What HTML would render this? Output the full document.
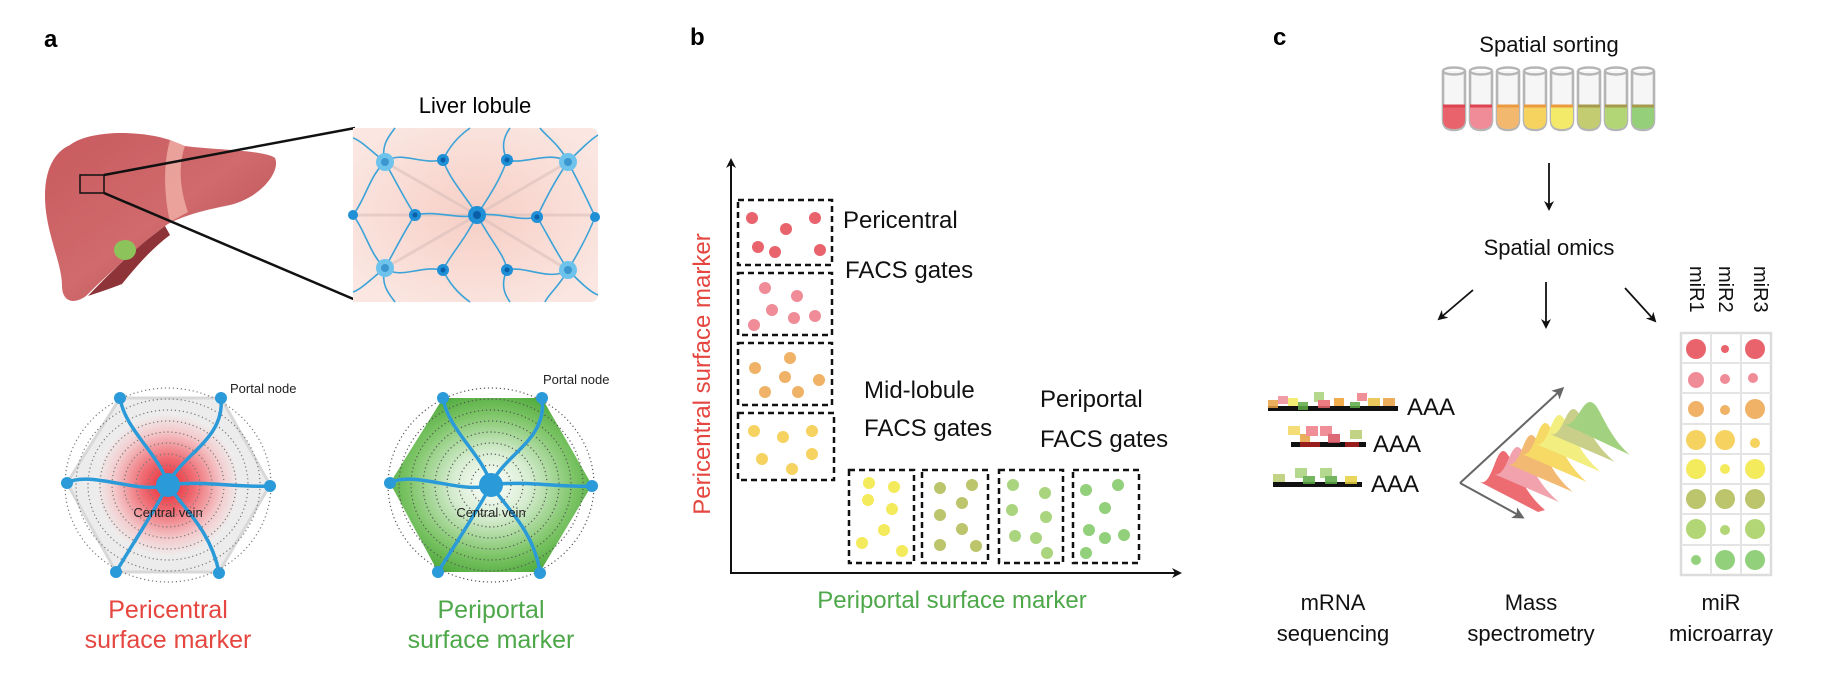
<!DOCTYPE html>
<html><head><meta charset="utf-8"><style>
html,body{margin:0;padding:0;background:#fff;}
svg{display:block;font-family:"Liberation Sans",Arial,sans-serif;}
</style></head><body>
<svg width="1824" height="684" viewBox="0 0 1824 684" xmlns="http://www.w3.org/2000/svg">
<defs>
<linearGradient id="liv" x1="0" y1="0" x2="1" y2="1"><stop offset="0" stop-color="#c85a5e"/><stop offset="0.5" stop-color="#d06a6c"/><stop offset="1" stop-color="#b44a50"/></linearGradient>
<radialGradient id="red" cx="0.5" cy="0.5" r="0.5"><stop offset="0" stop-color="#e8202a"/><stop offset="0.35" stop-color="#ef6068"/><stop offset="0.75" stop-color="#f4c8ca"/><stop offset="1" stop-color="#eeeeee"/></radialGradient>
<radialGradient id="grn" cx="0.5" cy="0.5" r="0.55"><stop offset="0" stop-color="#ffffff"/><stop offset="0.35" stop-color="#d6ecd0"/><stop offset="0.75" stop-color="#7cc466"/><stop offset="1" stop-color="#4faa3c"/></radialGradient>
<radialGradient id="lob" cx="0.5" cy="0.5" r="0.6"><stop offset="0" stop-color="#f6cfc6"/><stop offset="1" stop-color="#fbe6e1"/></radialGradient>
<linearGradient id="fade" x1="0" y1="0" x2="1" y2="1"><stop offset="0.4" stop-color="#fff" stop-opacity="1"/><stop offset="1" stop-color="#fff" stop-opacity="0"/></linearGradient>
<marker id="ah" markerWidth="10" markerHeight="10" refX="8" refY="5" orient="auto" markerUnits="userSpaceOnUse"><path d="M0,0 L10,5 L0,10 L3,5 Z" fill="#111"/></marker>
<marker id="ahg" markerWidth="12" markerHeight="12" refX="9" refY="6" orient="auto" markerUnits="userSpaceOnUse"><path d="M0,0 L12,6 L0,12 L3,6 Z" fill="#666"/></marker>
</defs>

<!-- Panel a -->
<text x="44" y="47" font-size="24" font-weight="bold">a</text>
<path d="M70,145 C90,130 140,130 170,140 L185,146 C215,150 265,150 275,158 C281,172 260,198 230,205 C205,210 185,215 168,224 C150,236 110,272 86,296 C72,306 62,300 62,286 C62,262 45,232 45,196 C45,170 54,152 70,145 Z" fill="url(#liv)"/>
<path d="M170,140 L185,146 C178,165 180,190 188,212 L170,222 C164,195 163,165 170,140 Z" fill="#f0b0a8" opacity="0.8"/>
<path d="M165,226 C135,248 108,275 88,296 C100,292 112,288 122,284 C135,268 150,250 170,235 Z" fill="#8e3338"/>
<ellipse cx="125" cy="250" rx="11" ry="10" fill="#8cc35a"/>
<rect x="80" y="175" width="24" height="18" fill="none" stroke="#111" stroke-width="1.5"/>
<line x1="104" y1="175" x2="355" y2="128" stroke="#111" stroke-width="2.5"/>
<line x1="104" y1="193" x2="358" y2="301" stroke="#111" stroke-width="2.5"/>
<text x="475" y="113" font-size="22" text-anchor="middle">Liver lobule</text>
<g>
<path d="M353,128 H590 Q598,128 598,136 V294 Q598,302 590,302 H353 Z" fill="url(#lob)"/>
<g stroke="#dcc0bc" stroke-width="3" opacity="0.6"><line x1="385" y1="162" x2="477" y2="215"/><line x1="568" y1="162" x2="477" y2="215"/><line x1="385" y1="268" x2="477" y2="215"/><line x1="568" y1="270" x2="477" y2="215"/><line x1="353" y1="215" x2="598" y2="215"/></g>
<g stroke="#3ba3d8" stroke-width="1.6" fill="none">
<path d="M477,215 C465,195 450,180 443,160"/><path d="M477,215 C490,195 500,180 507,160"/><path d="M477,215 C460,220 435,210 415,215"/><path d="M477,215 C500,212 520,222 537,217"/><path d="M477,215 C465,240 450,255 443,270"/><path d="M477,215 C490,240 505,255 507,270"/>
<path d="M385,162 C400,150 420,165 443,160"/><path d="M385,162 C395,180 405,200 415,215"/><path d="M385,162 C370,175 365,200 353,215"/><path d="M385,162 C380,145 390,135 395,128"/><path d="M385,162 C370,150 360,140 353,138"/>
<path d="M385,268 C400,280 420,265 443,270"/><path d="M385,268 C395,250 405,230 415,215"/><path d="M385,268 C370,255 365,230 353,215"/><path d="M385,268 C380,285 390,295 395,302"/><path d="M385,268 C370,280 360,290 353,292"/>
<path d="M568,162 C550,150 525,165 507,160"/><path d="M568,162 C555,180 545,200 537,217"/><path d="M568,162 C580,185 590,205 595,217"/><path d="M568,162 C560,145 545,135 540,128"/><path d="M568,162 C580,150 590,140 598,135"/>
<path d="M568,270 C550,282 525,265 507,270"/><path d="M568,270 C555,250 545,230 537,217"/><path d="M568,270 C580,250 590,230 595,217"/><path d="M568,270 C560,285 548,295 545,302"/><path d="M568,270 C580,282 590,292 598,295"/>
<path d="M443,160 C450,145 460,135 470,128"/><path d="M507,160 C500,145 505,135 510,128"/><path d="M443,270 C450,285 460,295 470,302"/><path d="M507,270 C500,285 505,295 510,302"/>
</g>
<g fill="#6ec3ec"><circle cx="385" cy="162" r="9"/><circle cx="385" cy="268" r="9"/><circle cx="568" cy="162" r="9"/><circle cx="568" cy="270" r="9"/></g>
<g fill="#3c97cf"><circle cx="385" cy="162" r="4"/><circle cx="385" cy="268" r="4"/><circle cx="568" cy="162" r="4"/><circle cx="568" cy="270" r="4"/></g>
<g fill="#1f8fd6"><circle cx="443" cy="160" r="6"/><circle cx="507" cy="160" r="6"/><circle cx="415" cy="215" r="6"/><circle cx="537" cy="217" r="6"/><circle cx="443" cy="270" r="6"/><circle cx="507" cy="270" r="6"/><circle cx="353" cy="215" r="5"/><circle cx="595" cy="217" r="5"/><circle cx="477" cy="215" r="9"/></g>
<g fill="#0b5fa8"><circle cx="443" cy="160" r="2.5"/><circle cx="507" cy="160" r="2.5"/><circle cx="415" cy="215" r="2.5"/><circle cx="537" cy="217" r="2.5"/><circle cx="443" cy="270" r="2.5"/><circle cx="507" cy="270" r="2.5"/><circle cx="477" cy="215" r="4"/></g>
</g>

<!-- left hex -->
<g>
<polygon points="120,398 221,398 270,485 219,572 116,572 67,483" fill="#ececec" stroke="#d8d8d8" stroke-width="3"/>
<circle cx="168" cy="485" r="72" fill="url(#red)" opacity="0.95"/>
<g fill="none" stroke="#777" stroke-width="1.2" stroke-dasharray="1.2 2.8">
<ellipse cx="168" cy="485" rx="20" ry="20"/><ellipse cx="168" cy="485" rx="32" ry="31"/><ellipse cx="168" cy="485" rx="44" ry="42"/><ellipse cx="168" cy="485" rx="56" ry="53"/><ellipse cx="168" cy="485" rx="68" ry="64"/><ellipse cx="168" cy="485" rx="80" ry="75"/><ellipse cx="168" cy="485" rx="92" ry="86"/><ellipse cx="168" cy="485" rx="103" ry="97"/>
</g>
<g stroke="#2b9ad8" stroke-width="3.5" fill="none">
<path d="M168,485 C160,455 125,430 120,398"/><path d="M168,485 C180,455 225,440 221,398"/><path d="M168,485 C140,495 90,470 67,483"/><path d="M168,485 C200,480 240,488 270,486"/><path d="M168,485 C155,510 135,540 116,572"/><path d="M168,485 C185,510 210,530 219,572"/>
</g>
<g fill="#2b9ad8"><circle cx="168" cy="485" r="12"/><circle cx="120" cy="398" r="6"/><circle cx="221" cy="398" r="6"/><circle cx="67" cy="483" r="6"/><circle cx="270" cy="486" r="6"/><circle cx="116" cy="572" r="6"/><circle cx="219" cy="573" r="6"/></g>
<text x="230" y="393" font-size="13" fill="#222">Portal node</text>
<text x="168" y="517" font-size="13" text-anchor="middle" fill="#222">Central vein</text>
<text x="168" y="618" font-size="25" text-anchor="middle" fill="#e5463f">Pericentral</text>
<text x="168" y="648" font-size="25" text-anchor="middle" fill="#e5463f">surface marker</text>
</g>

<!-- right hex -->
<g>
<polygon points="443,398 542,398 592,485 540,572 438,572 390,483" fill="url(#grn)"/>
<g fill="none" stroke="#555" stroke-width="1.2" stroke-dasharray="1.2 2.8">
<ellipse cx="491" cy="485" rx="20" ry="20"/><ellipse cx="491" cy="485" rx="32" ry="31"/><ellipse cx="491" cy="485" rx="44" ry="42"/><ellipse cx="491" cy="485" rx="56" ry="53"/><ellipse cx="491" cy="485" rx="68" ry="64"/><ellipse cx="491" cy="485" rx="80" ry="75"/><ellipse cx="491" cy="485" rx="92" ry="86"/><ellipse cx="491" cy="485" rx="103" ry="97"/>
</g>
<g stroke="#2b9ad8" stroke-width="3.5" fill="none">
<path d="M491,485 C483,455 448,430 443,398"/><path d="M491,485 C503,455 548,440 542,398"/><path d="M491,485 C463,495 413,470 390,483"/><path d="M491,485 C523,480 563,488 592,486"/><path d="M491,485 C478,510 458,540 438,572"/><path d="M491,485 C508,510 533,530 540,572"/>
</g>
<g fill="#2b9ad8"><circle cx="491" cy="485" r="12"/><circle cx="443" cy="398" r="6"/><circle cx="542" cy="398" r="6"/><circle cx="390" cy="483" r="6"/><circle cx="592" cy="486" r="6"/><circle cx="438" cy="572" r="6"/><circle cx="540" cy="573" r="6"/></g>
<text x="543" y="384" font-size="13" fill="#222">Portal node</text>
<text x="491" y="517" font-size="13" text-anchor="middle" fill="#222">Central vein</text>
<text x="491" y="618" font-size="25" text-anchor="middle" fill="#4ea84a">Periportal</text>
<text x="491" y="648" font-size="25" text-anchor="middle" fill="#4ea84a">surface marker</text>
</g>

<!-- Panel b -->
<text x="690" y="45" font-size="24" font-weight="bold">b</text>
<line x1="731" y1="573" x2="731" y2="160" stroke="#111" stroke-width="2" marker-end="url(#ah)"/>
<line x1="730" y1="573" x2="1180" y2="573" stroke="#111" stroke-width="2" marker-end="url(#ah)"/>
<g fill="none" stroke="#111" stroke-width="2.5" stroke-dasharray="6 4">
<rect x="738" y="200" width="94" height="65"/><rect x="738" y="273" width="94" height="62"/><rect x="738" y="343" width="94" height="62"/><rect x="738" y="413" width="96" height="67"/>
<rect x="849" y="470" width="65" height="93"/><rect x="922" y="470" width="66" height="93"/><rect x="999" y="470" width="64" height="93"/><rect x="1073" y="470" width="66" height="93"/>
</g>
<g fill="#e8636c"><circle cx="752" cy="218" r="6"/><circle cx="786" cy="229" r="6"/><circle cx="815" cy="218" r="6"/><circle cx="758" cy="247" r="6"/><circle cx="775" cy="252" r="6"/><circle cx="820" cy="250" r="6"/></g>
<g fill="#ef8c98"><circle cx="765" cy="288" r="6"/><circle cx="797" cy="296" r="6"/><circle cx="772" cy="310" r="6"/><circle cx="794" cy="318" r="6"/><circle cx="815" cy="316" r="6"/><circle cx="754" cy="325" r="6"/></g>
<g fill="#efb266"><circle cx="755" cy="368" r="6"/><circle cx="790" cy="358" r="6"/><circle cx="785" cy="377" r="6"/><circle cx="819" cy="380" r="6"/><circle cx="765" cy="392" r="6"/><circle cx="798" cy="392" r="6"/></g>
<g fill="#f6d260"><circle cx="754" cy="431" r="6"/><circle cx="783" cy="437" r="6"/><circle cx="812" cy="431" r="6"/><circle cx="762" cy="459" r="6"/><circle cx="812" cy="454" r="6"/><circle cx="792" cy="469" r="6"/></g>
<g fill="#f3ea5c"><circle cx="869" cy="483" r="6"/><circle cx="894" cy="487" r="6"/><circle cx="868" cy="500" r="6"/><circle cx="892" cy="509" r="6"/><circle cx="884" cy="530" r="6"/><circle cx="862" cy="543" r="6"/><circle cx="902" cy="551" r="6"/></g>
<g fill="#bcc46c"><circle cx="940" cy="488" r="6"/><circle cx="972" cy="485" r="6"/><circle cx="962" cy="503" r="6"/><circle cx="940" cy="515" r="6"/><circle cx="962" cy="529" r="6"/><circle cx="940" cy="545" r="6"/><circle cx="976" cy="546" r="6"/></g>
<g fill="#abd47e"><circle cx="1013" cy="485" r="6"/><circle cx="1045" cy="493" r="6"/><circle cx="1012" cy="510" r="6"/><circle cx="1046" cy="517" r="6"/><circle cx="1036" cy="538" r="6"/><circle cx="1015" cy="536" r="6"/><circle cx="1047" cy="553" r="6"/></g>
<g fill="#92d07c"><circle cx="1086" cy="490" r="6"/><circle cx="1118" cy="485" r="6"/><circle cx="1105" cy="508" r="6"/><circle cx="1089" cy="530" r="6"/><circle cx="1105" cy="538" r="6"/><circle cx="1124" cy="535" r="6"/><circle cx="1086" cy="553" r="6"/></g>
<g font-size="24" fill="#111">
<text x="843" y="228">Pericentral</text><text x="845" y="278">FACS gates</text>
<text x="864" y="398">Mid-lobule</text><text x="864" y="436">FACS gates</text>
<text x="1040" y="407">Periportal</text><text x="1040" y="447">FACS gates</text>
</g>
<text x="952" y="608" font-size="24" text-anchor="middle" fill="#4ea84a">Periportal surface marker</text>
<text transform="translate(710,374) rotate(-90)" font-size="24" text-anchor="middle" fill="#e5463f">Pericentral surface marker</text>

<!-- Panel c -->
<text x="1273" y="45" font-size="24" font-weight="bold">c</text>
<text x="1549" y="52" font-size="22" text-anchor="middle" fill="#111">Spatial sorting</text>
<g stroke="#b5b5b5" stroke-width="2.6">
<path d="M1443,71 V120 Q1443,130 1454,130 Q1465,130 1465,120 V71" fill="#f6f6f6"/>
<path d="M1443,106 V120 Q1443,129 1454,129 Q1465,129 1465,120 V106 Z" fill="#e9636c" stroke="none"/>
<path d="M1470,71 V120 Q1470,130 1481,130 Q1492,130 1492,120 V71" fill="#f6f6f6"/>
<path d="M1470,106 V120 Q1470,129 1481,129 Q1492,129 1492,120 V106 Z" fill="#ef8c98" stroke="none"/>
<path d="M1497,71 V120 Q1497,130 1508,130 Q1519,130 1519,120 V71" fill="#f6f6f6"/>
<path d="M1497,106 V120 Q1497,129 1508,129 Q1519,129 1519,120 V106 Z" fill="#f2b96e" stroke="none"/>
<path d="M1524,71 V120 Q1524,130 1535,130 Q1546,130 1546,120 V71" fill="#f6f6f6"/>
<path d="M1524,106 V120 Q1524,129 1535,129 Q1546,129 1546,120 V106 Z" fill="#f6d35e" stroke="none"/>
<path d="M1551,71 V120 Q1551,130 1562,130 Q1573,130 1573,120 V71" fill="#f6f6f6"/>
<path d="M1551,106 V120 Q1551,129 1562,129 Q1573,129 1573,120 V106 Z" fill="#f4ea6a" stroke="none"/>
<path d="M1578,71 V120 Q1578,130 1589,130 Q1600,130 1600,120 V71" fill="#f6f6f6"/>
<path d="M1578,106 V120 Q1578,129 1589,129 Q1600,129 1600,120 V106 Z" fill="#c4cc72" stroke="none"/>
<path d="M1605,71 V120 Q1605,130 1616,130 Q1627,130 1627,120 V71" fill="#f6f6f6"/>
<path d="M1605,106 V120 Q1605,129 1616,129 Q1627,129 1627,120 V106 Z" fill="#b2d676" stroke="none"/>
<path d="M1632,71 V120 Q1632,130 1643,130 Q1654,130 1654,120 V71" fill="#f6f6f6"/>
<path d="M1632,106 V120 Q1632,129 1643,129 Q1654,129 1654,120 V106 Z" fill="#96cf7a" stroke="none"/>
</g>
<g fill="none" stroke="#b5b5b5" stroke-width="2.4"><ellipse cx="1454" cy="71" rx="11" ry="3.5"/><ellipse cx="1481" cy="71" rx="11" ry="3.5"/><ellipse cx="1508" cy="71" rx="11" ry="3.5"/><ellipse cx="1535" cy="71" rx="11" ry="3.5"/><ellipse cx="1562" cy="71" rx="11" ry="3.5"/><ellipse cx="1589" cy="71" rx="11" ry="3.5"/><ellipse cx="1616" cy="71" rx="11" ry="3.5"/><ellipse cx="1643" cy="71" rx="11" ry="3.5"/></g>
<g fill="none" stroke-width="3"><path d="M1443,106 H1465 M1470,106 H1492" stroke="#dd4450"/><path d="M1497,106 H1519 M1524,106 H1546 M1551,106 H1573" stroke="#eb9a40"/><path d="M1578,106 H1600 M1605,106 H1627 M1632,106 H1654" stroke="#a79a4c"/></g>
<line x1="1549" y1="163" x2="1549" y2="209" stroke="#111" stroke-width="1.8" marker-end="url(#ah)"/>
<text x="1549" y="255" font-size="22" text-anchor="middle" fill="#111">Spatial omics</text>
<line x1="1473" y1="290" x2="1439" y2="319" stroke="#111" stroke-width="1.8" marker-end="url(#ah)"/>
<line x1="1546" y1="282" x2="1546" y2="327" stroke="#111" stroke-width="1.8" marker-end="url(#ah)"/>
<line x1="1625" y1="288" x2="1655" y2="321" stroke="#111" stroke-width="1.8" marker-end="url(#ah)"/>
<g font-size="20" fill="#111"><text transform="translate(1690,266) rotate(90)">miR1</text><text transform="translate(1719,266) rotate(90)">miR2</text><text transform="translate(1754,266) rotate(90)">miR3</text></g>
<rect x="1681" y="333" width="90" height="242" fill="#fff" stroke="#dcdcdc" stroke-width="2.5"/>
<g stroke="#e4e4e4" stroke-width="2"><line x1="1711" y1="333" x2="1711" y2="575"/><line x1="1741" y1="333" x2="1741" y2="575"/>
<line x1="1681" y1="363" x2="1771" y2="363"/><line x1="1681" y1="393" x2="1771" y2="393"/><line x1="1681" y1="424" x2="1771" y2="424"/><line x1="1681" y1="454" x2="1771" y2="454"/><line x1="1681" y1="484" x2="1771" y2="484"/><line x1="1681" y1="514" x2="1771" y2="514"/><line x1="1681" y1="545" x2="1771" y2="545"/></g>
<g>
<circle cx="1696" cy="349" r="10" fill="#e9636c"/><circle cx="1725" cy="349" r="4" fill="#e9636c"/><circle cx="1755" cy="349" r="10" fill="#e9636c"/>
<circle cx="1696" cy="380" r="8" fill="#ef8c98"/><circle cx="1725" cy="379" r="5" fill="#ef8c98"/><circle cx="1753" cy="378" r="5" fill="#ef8c98"/>
<circle cx="1696" cy="409" r="8" fill="#efb266"/><circle cx="1725" cy="410" r="5" fill="#efb266"/><circle cx="1755" cy="409" r="10" fill="#efb266"/>
<circle cx="1696" cy="440" r="10" fill="#f6d260"/><circle cx="1725" cy="440" r="10" fill="#f6d260"/><circle cx="1755" cy="443" r="5" fill="#f6d260"/>
<circle cx="1696" cy="469" r="10" fill="#f3ea5c"/><circle cx="1725" cy="469" r="5" fill="#f3ea5c"/><circle cx="1755" cy="469" r="10" fill="#f3ea5c"/>
<circle cx="1696" cy="499" r="10" fill="#bcc46c"/><circle cx="1725" cy="499" r="10" fill="#bcc46c"/><circle cx="1755" cy="499" r="10" fill="#bcc46c"/>
<circle cx="1696" cy="529" r="10" fill="#b2d676"/><circle cx="1725" cy="530" r="5" fill="#b2d676"/><circle cx="1755" cy="529" r="10" fill="#b2d676"/>
<circle cx="1696" cy="560" r="5" fill="#92d07c"/><circle cx="1725" cy="560" r="10" fill="#92d07c"/><circle cx="1755" cy="560" r="10" fill="#92d07c"/>
</g>

<!-- mRNA -->
<g>
<rect x="1268" y="406" width="130" height="5" fill="#111"/>
<g opacity="0.85">
<rect x="1268" y="400" width="10" height="8" fill="#e8a040"/><rect x="1278" y="396" width="10" height="8" fill="#ef8c98"/><rect x="1288" y="398" width="10" height="8" fill="#f3ea5c"/><rect x="1298" y="402" width="10" height="8" fill="#5caa44"/><rect x="1314" y="392" width="10" height="10" fill="#a8d27a"/><rect x="1318" y="400" width="12" height="8" fill="#e8636c"/><rect x="1334" y="398" width="10" height="8" fill="#f0a030"/><rect x="1350" y="402" width="10" height="6" fill="#5caa44"/><rect x="1357" y="393" width="10" height="8" fill="#ef7c88"/><rect x="1368" y="398" width="12" height="8" fill="#e8c040"/><rect x="1383" y="398" width="12" height="8" fill="#e8a040"/>
</g>
<text x="1407" y="415" font-size="24" fill="#111">AAA</text>
<rect x="1291" y="442" width="75" height="5" fill="#111"/>
<g opacity="0.85">
<rect x="1288" y="426" width="12" height="9" fill="#f3d860"/><rect x="1300" y="434" width="10" height="9" fill="#e8a040"/><rect x="1306" y="426" width="12" height="10" fill="#ef7c88"/><rect x="1320" y="426" width="12" height="10" fill="#ef7c88"/><rect x="1328" y="434" width="12" height="9" fill="#d85060"/><rect x="1350" y="430" width="12" height="9" fill="#b8cc70"/><rect x="1300" y="442" width="20" height="5" fill="#b02020"/><rect x="1345" y="442" width="14" height="5" fill="#b02020"/>
</g>
<text x="1373" y="452" font-size="24" fill="#111">AAA</text>
<rect x="1273" y="482" width="89" height="5" fill="#111"/>
<g opacity="0.85">
<rect x="1273" y="474" width="12" height="8" fill="#b8cc70"/><rect x="1295" y="468" width="12" height="10" fill="#a8d27a"/><rect x="1303" y="476" width="12" height="8" fill="#5caa44"/><rect x="1320" y="468" width="12" height="10" fill="#a8d27a"/><rect x="1325" y="476" width="12" height="8" fill="#5caa44"/><rect x="1345" y="476" width="12" height="8" fill="#e8d040"/>
</g>
<text x="1371" y="492" font-size="24" fill="#111">AAA</text>
</g>

<!-- mass spec -->
<g opacity="0.8">
<path d="M1480,482 C1492,486 1495,452 1503,451 C1511,450 1518,488 1545,510 L1538,512 Z" fill="#e84850"/>
<path d="M1494,474 C1506,478 1509,448 1517,447 C1525,446 1532,480 1559,502 Z" fill="#ef8c98"/>
<path d="M1508,464 C1520,468 1523,436 1531,435 C1539,434 1546,470 1573,492 Z" fill="#f0a850"/>
<path d="M1522,454 C1534,458 1537,424 1545,423 C1553,422 1560,460 1587,482 Z" fill="#f6d040"/>
<path d="M1536,444 C1548,448 1551,416 1559,415 C1567,414 1574,450 1601,472 Z" fill="#f0ea60"/>
<path d="M1550,434 C1562,438 1565,410 1573,409 C1581,408 1588,440 1615,462 Z" fill="#bcc46c"/>
<path d="M1564,424 C1576,428 1581,402 1590,402 C1600,402 1604,432 1630,455 Z" fill="#8cc860"/>
</g>
<line x1="1460" y1="483" x2="1562" y2="389" stroke="#666" stroke-width="2" marker-end="url(#ahg)"/>
<line x1="1460" y1="483" x2="1522" y2="517" stroke="#666" stroke-width="2" marker-end="url(#ahg)"/>

<g font-size="22" fill="#111" text-anchor="middle">
<text x="1333" y="610">mRNA</text><text x="1333" y="641">sequencing</text>
<text x="1531" y="610">Mass</text><text x="1531" y="641">spectrometry</text>
<text x="1721" y="610">miR</text><text x="1721" y="641">microarray</text>
</g>
</svg>
</body></html>
